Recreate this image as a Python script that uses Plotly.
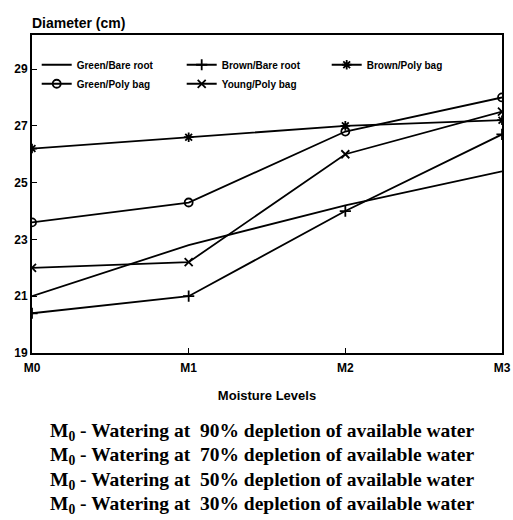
import plotly.graph_objects as go

levels = ["M0", "M1", "M2", "M3"]
x_pos = [0, 1, 2, 3]

green_bare = [21.0, 22.8, 24.2, 25.4]
brown_bare = [20.4, 21.0, 24.0, 26.7]
brown_poly = [26.2, 26.6, 27.0, 27.2]
green_poly = [23.6, 24.3, 26.8, 28.0]
young_poly = [22.0, 22.2, 26.0, 27.5]

y_ticks = [19, 21, 23, 25, 27, 29]

notes = [
    "M<sub>0</sub> - Watering at  90% depletion of available water",
    "M<sub>0</sub> - Watering at  70% depletion of available water",
    "M<sub>0</sub> - Watering at  50% depletion of available water",
    "M<sub>0</sub> - Watering at  30% depletion of available water",
]

series = [
    ("Green/Bare root", green_bare, None),
    ("Brown/Bare root", brown_bare, "cross-thin-open"),
    ("Brown/Poly bag", brown_poly, "asterisk-open"),
    ("Green/Poly bag", green_poly, "circle-open"),
    ("Young/Poly bag", young_poly, "x-thin-open"),
]

fig = go.Figure()
for name, vals, sym in series:
    if sym is None:
        fig.add_trace(go.Scatter(x=x_pos, y=vals, name=name, mode="lines",
                                 line=dict(color="black", width=1.8)))
    else:
        fig.add_trace(go.Scatter(x=x_pos, y=vals, name=name, mode="lines+markers",
                                 line=dict(color="black", width=1.8),
                                 marker=dict(symbol=sym, size=8, color="black",
                                             line=dict(color="black", width=1.8))))

SANS = "Liberation Sans"
axis_font = dict(family=SANS, size=12, color="black", weight="bold")

fig.update_layout(
    width=513, height=520,
    margin=dict(l=32, r=11, t=35, b=167, autoexpand=False),
    paper_bgcolor="white", plot_bgcolor="white",
    showlegend=True,
    legend=dict(orientation="h", x=0.01, y=0.952, xanchor="left", yanchor="top",
                entrywidth=100, entrywidthmode="pixels",
                font=dict(family=SANS, size=10, color="black", weight="bold"),
                bgcolor="rgba(0,0,0,0)", tracegroupgap=0, itemwidth=30),
    xaxis=dict(range=[0, 3], tickvals=x_pos, ticktext=levels, automargin=False,
               showgrid=False, zeroline=False, showline=True, linecolor="black",
               linewidth=2, mirror=True, ticks="inside", ticklen=5,
               tickcolor="black", tickfont=axis_font, ticklabelstandoff=3,
               title=dict(text="Moisture Levels",
                          font=dict(family=SANS, size=13, color="black", weight="bold"),
                          standoff=16)),
    yaxis=dict(range=[19, 30.2], tickvals=y_ticks, automargin=False,
               showgrid=False, zeroline=False, showline=True, linecolor="black",
               linewidth=2, mirror=True, ticks="inside", ticklen=5,
               tickcolor="black", tickfont=axis_font),
)

fig.add_annotation(text="Diameter (cm)", x=-0.005, y=1.0, xref="paper", yref="paper",
                   xanchor="left", yanchor="bottom", yshift=2, showarrow=False,
                   font=dict(family=SANS, size=14, color="black", weight="bold"))

for i, t in enumerate(notes):
    fig.add_annotation(text="<b>" + t + "</b>", x=0.49, y=-0.248, xref="paper", yref="paper",
                       xanchor="center", yanchor="middle", yshift=-24.5 * i,
                       showarrow=False,
                       font=dict(family="Liberation Serif", size=19.5, color="black"))

fig.write_html(
    "out.html",
    config={"displayModeBar": False},
    post_script="document.body.style.margin='0';document.body.style.overflow='hidden';",
)
